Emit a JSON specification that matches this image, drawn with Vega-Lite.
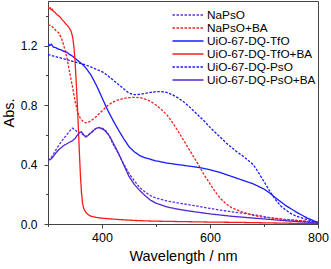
{
  "$schema": "https://vega.github.io/schema/vega-lite/v6.json",
  "autosize": "none",
  "width": 270,
  "height": 223,
  "padding": {"left": 48, "top": 1, "right": 13, "bottom": 45},
  "background": "white",
  "config": {
    "font": "Liberation Sans",
    "view": {"stroke": "#444", "strokeWidth": 1}
  },
  "data": {"values": [
    {"s":"NaPsO","w":300,"a":0.43},{"s":"NaPsO","w":305,"a":0.44},{"s":"NaPsO","w":310,"a":0.47},{"s":"NaPsO","w":315,"a":0.5},{"s":"NaPsO","w":320,"a":0.53},{"s":"NaPsO","w":325,"a":0.555},{"s":"NaPsO","w":330,"a":0.58},{"s":"NaPsO","w":335,"a":0.6},{"s":"NaPsO","w":340,"a":0.625},{"s":"NaPsO","w":345,"a":0.645},{"s":"NaPsO","w":350,"a":0.635},{"s":"NaPsO","w":355,"a":0.615},{"s":"NaPsO","w":360,"a":0.615},{"s":"NaPsO","w":365,"a":0.6},{"s":"NaPsO","w":370,"a":0.588},{"s":"NaPsO","w":375,"a":0.6},{"s":"NaPsO","w":380,"a":0.615},{"s":"NaPsO","w":385,"a":0.632},{"s":"NaPsO","w":390,"a":0.645},{"s":"NaPsO","w":395,"a":0.65},{"s":"NaPsO","w":400,"a":0.645},{"s":"NaPsO","w":405,"a":0.635},{"s":"NaPsO","w":410,"a":0.615},{"s":"NaPsO","w":415,"a":0.58},{"s":"NaPsO","w":420,"a":0.54},{"s":"NaPsO","w":430,"a":0.475},{"s":"NaPsO","w":440,"a":0.405},{"s":"NaPsO","w":450,"a":0.34},{"s":"NaPsO","w":460,"a":0.29},{"s":"NaPsO","w":470,"a":0.245},{"s":"NaPsO","w":480,"a":0.215},{"s":"NaPsO","w":490,"a":0.19},{"s":"NaPsO","w":500,"a":0.175},{"s":"NaPsO","w":520,"a":0.155},{"s":"NaPsO","w":540,"a":0.142},{"s":"NaPsO","w":560,"a":0.13},{"s":"NaPsO","w":580,"a":0.118},{"s":"NaPsO","w":600,"a":0.105},{"s":"NaPsO","w":620,"a":0.093},{"s":"NaPsO","w":640,"a":0.082},{"s":"NaPsO","w":660,"a":0.073},{"s":"NaPsO","w":680,"a":0.063},{"s":"NaPsO","w":700,"a":0.05},{"s":"NaPsO","w":720,"a":0.038},{"s":"NaPsO","w":740,"a":0.03},{"s":"NaPsO","w":760,"a":0.024},{"s":"NaPsO","w":780,"a":0.018},{"s":"NaPsO","w":800,"a":0.01},

    {"s":"NaPsO+BA","w":300,"a":1.34},{"s":"NaPsO+BA","w":305,"a":1.335},{"s":"NaPsO+BA","w":310,"a":1.32},{"s":"NaPsO+BA","w":315,"a":1.3},{"s":"NaPsO+BA","w":320,"a":1.285},{"s":"NaPsO+BA","w":325,"a":1.25},{"s":"NaPsO+BA","w":330,"a":1.19},{"s":"NaPsO+BA","w":335,"a":1.12},{"s":"NaPsO+BA","w":340,"a":1.02},{"s":"NaPsO+BA","w":345,"a":0.93},{"s":"NaPsO+BA","w":350,"a":0.83},{"s":"NaPsO+BA","w":355,"a":0.75},{"s":"NaPsO+BA","w":360,"a":0.71},{"s":"NaPsO+BA","w":365,"a":0.69},{"s":"NaPsO+BA","w":370,"a":0.68},{"s":"NaPsO+BA","w":375,"a":0.685},{"s":"NaPsO+BA","w":380,"a":0.695},{"s":"NaPsO+BA","w":390,"a":0.725},{"s":"NaPsO+BA","w":400,"a":0.76},{"s":"NaPsO+BA","w":410,"a":0.795},{"s":"NaPsO+BA","w":420,"a":0.82},{"s":"NaPsO+BA","w":430,"a":0.835},{"s":"NaPsO+BA","w":440,"a":0.845},{"s":"NaPsO+BA","w":450,"a":0.85},{"s":"NaPsO+BA","w":460,"a":0.852},{"s":"NaPsO+BA","w":470,"a":0.85},{"s":"NaPsO+BA","w":480,"a":0.84},{"s":"NaPsO+BA","w":490,"a":0.825},{"s":"NaPsO+BA","w":500,"a":0.8},{"s":"NaPsO+BA","w":510,"a":0.77},{"s":"NaPsO+BA","w":520,"a":0.735},{"s":"NaPsO+BA","w":530,"a":0.685},{"s":"NaPsO+BA","w":540,"a":0.63},{"s":"NaPsO+BA","w":550,"a":0.57},{"s":"NaPsO+BA","w":560,"a":0.51},{"s":"NaPsO+BA","w":570,"a":0.45},{"s":"NaPsO+BA","w":580,"a":0.39},{"s":"NaPsO+BA","w":590,"a":0.325},{"s":"NaPsO+BA","w":600,"a":0.27},{"s":"NaPsO+BA","w":610,"a":0.215},{"s":"NaPsO+BA","w":620,"a":0.17},{"s":"NaPsO+BA","w":630,"a":0.135},{"s":"NaPsO+BA","w":640,"a":0.11},{"s":"NaPsO+BA","w":660,"a":0.08},{"s":"NaPsO+BA","w":680,"a":0.058},{"s":"NaPsO+BA","w":700,"a":0.045},{"s":"NaPsO+BA","w":720,"a":0.038},{"s":"NaPsO+BA","w":740,"a":0.03},{"s":"NaPsO+BA","w":760,"a":0.024},{"s":"NaPsO+BA","w":780,"a":0.018},{"s":"NaPsO+BA","w":800,"a":0.01},

    {"s":"UiO-67-DQ-TfO","w":300,"a":1.215},{"s":"UiO-67-DQ-TfO","w":303,"a":1.2},{"s":"UiO-67-DQ-TfO","w":306,"a":1.21},{"s":"UiO-67-DQ-TfO","w":310,"a":1.19},{"s":"UiO-67-DQ-TfO","w":315,"a":1.185},{"s":"UiO-67-DQ-TfO","w":320,"a":1.175},{"s":"UiO-67-DQ-TfO","w":325,"a":1.17},{"s":"UiO-67-DQ-TfO","w":330,"a":1.16},{"s":"UiO-67-DQ-TfO","w":335,"a":1.155},{"s":"UiO-67-DQ-TfO","w":340,"a":1.14},{"s":"UiO-67-DQ-TfO","w":345,"a":1.13},{"s":"UiO-67-DQ-TfO","w":350,"a":1.115},{"s":"UiO-67-DQ-TfO","w":355,"a":1.1},{"s":"UiO-67-DQ-TfO","w":360,"a":1.085},{"s":"UiO-67-DQ-TfO","w":365,"a":1.07},{"s":"UiO-67-DQ-TfO","w":370,"a":1.05},{"s":"UiO-67-DQ-TfO","w":375,"a":1.025},{"s":"UiO-67-DQ-TfO","w":380,"a":1.0},{"s":"UiO-67-DQ-TfO","w":390,"a":0.93},{"s":"UiO-67-DQ-TfO","w":400,"a":0.85},{"s":"UiO-67-DQ-TfO","w":410,"a":0.77},{"s":"UiO-67-DQ-TfO","w":420,"a":0.7},{"s":"UiO-67-DQ-TfO","w":430,"a":0.635},{"s":"UiO-67-DQ-TfO","w":440,"a":0.575},{"s":"UiO-67-DQ-TfO","w":450,"a":0.52},{"s":"UiO-67-DQ-TfO","w":460,"a":0.485},{"s":"UiO-67-DQ-TfO","w":470,"a":0.46},{"s":"UiO-67-DQ-TfO","w":480,"a":0.445},{"s":"UiO-67-DQ-TfO","w":500,"a":0.425},{"s":"UiO-67-DQ-TfO","w":520,"a":0.41},{"s":"UiO-67-DQ-TfO","w":540,"a":0.4},{"s":"UiO-67-DQ-TfO","w":560,"a":0.39},{"s":"UiO-67-DQ-TfO","w":580,"a":0.38},{"s":"UiO-67-DQ-TfO","w":600,"a":0.365},{"s":"UiO-67-DQ-TfO","w":620,"a":0.345},{"s":"UiO-67-DQ-TfO","w":640,"a":0.32},{"s":"UiO-67-DQ-TfO","w":660,"a":0.295},{"s":"UiO-67-DQ-TfO","w":680,"a":0.27},{"s":"UiO-67-DQ-TfO","w":700,"a":0.235},{"s":"UiO-67-DQ-TfO","w":710,"a":0.21},{"s":"UiO-67-DQ-TfO","w":720,"a":0.18},{"s":"UiO-67-DQ-TfO","w":740,"a":0.125},{"s":"UiO-67-DQ-TfO","w":760,"a":0.08},{"s":"UiO-67-DQ-TfO","w":780,"a":0.04},{"s":"UiO-67-DQ-TfO","w":800,"a":0.01},

    {"s":"UiO-67-DQ-TfO+BA","w":300,"a":1.46},{"s":"UiO-67-DQ-TfO+BA","w":302,"a":1.45},{"s":"UiO-67-DQ-TfO+BA","w":304,"a":1.455},{"s":"UiO-67-DQ-TfO+BA","w":306,"a":1.44},{"s":"UiO-67-DQ-TfO+BA","w":308,"a":1.445},{"s":"UiO-67-DQ-TfO+BA","w":310,"a":1.43},{"s":"UiO-67-DQ-TfO+BA","w":313,"a":1.425},{"s":"UiO-67-DQ-TfO+BA","w":316,"a":1.41},{"s":"UiO-67-DQ-TfO+BA","w":320,"a":1.4},{"s":"UiO-67-DQ-TfO+BA","w":323,"a":1.39},{"s":"UiO-67-DQ-TfO+BA","w":326,"a":1.375},{"s":"UiO-67-DQ-TfO+BA","w":330,"a":1.36},{"s":"UiO-67-DQ-TfO+BA","w":333,"a":1.345},{"s":"UiO-67-DQ-TfO+BA","w":336,"a":1.335},{"s":"UiO-67-DQ-TfO+BA","w":340,"a":1.315},{"s":"UiO-67-DQ-TfO+BA","w":343,"a":1.295},{"s":"UiO-67-DQ-TfO+BA","w":346,"a":1.25},{"s":"UiO-67-DQ-TfO+BA","w":348,"a":1.19},{"s":"UiO-67-DQ-TfO+BA","w":350,"a":1.1},{"s":"UiO-67-DQ-TfO+BA","w":352,"a":0.97},{"s":"UiO-67-DQ-TfO+BA","w":354,"a":0.83},{"s":"UiO-67-DQ-TfO+BA","w":356,"a":0.67},{"s":"UiO-67-DQ-TfO+BA","w":358,"a":0.49},{"s":"UiO-67-DQ-TfO+BA","w":360,"a":0.33},{"s":"UiO-67-DQ-TfO+BA","w":362,"a":0.21},{"s":"UiO-67-DQ-TfO+BA","w":364,"a":0.14},{"s":"UiO-67-DQ-TfO+BA","w":366,"a":0.105},{"s":"UiO-67-DQ-TfO+BA","w":370,"a":0.078},{"s":"UiO-67-DQ-TfO+BA","w":375,"a":0.062},{"s":"UiO-67-DQ-TfO+BA","w":380,"a":0.052},{"s":"UiO-67-DQ-TfO+BA","w":390,"a":0.044},{"s":"UiO-67-DQ-TfO+BA","w":400,"a":0.039},{"s":"UiO-67-DQ-TfO+BA","w":420,"a":0.033},{"s":"UiO-67-DQ-TfO+BA","w":440,"a":0.028},{"s":"UiO-67-DQ-TfO+BA","w":460,"a":0.024},{"s":"UiO-67-DQ-TfO+BA","w":480,"a":0.021},{"s":"UiO-67-DQ-TfO+BA","w":500,"a":0.019},{"s":"UiO-67-DQ-TfO+BA","w":550,"a":0.016},{"s":"UiO-67-DQ-TfO+BA","w":600,"a":0.013},{"s":"UiO-67-DQ-TfO+BA","w":650,"a":0.011},{"s":"UiO-67-DQ-TfO+BA","w":700,"a":0.008},{"s":"UiO-67-DQ-TfO+BA","w":750,"a":0.005},{"s":"UiO-67-DQ-TfO+BA","w":800,"a":0.002},

    {"s":"UiO-67-DQ-PsO","w":300,"a":1.14},{"s":"UiO-67-DQ-PsO","w":310,"a":1.13},{"s":"UiO-67-DQ-PsO","w":320,"a":1.12},{"s":"UiO-67-DQ-PsO","w":330,"a":1.11},{"s":"UiO-67-DQ-PsO","w":340,"a":1.1},{"s":"UiO-67-DQ-PsO","w":350,"a":1.09},{"s":"UiO-67-DQ-PsO","w":360,"a":1.08},{"s":"UiO-67-DQ-PsO","w":370,"a":1.07},{"s":"UiO-67-DQ-PsO","w":380,"a":1.055},{"s":"UiO-67-DQ-PsO","w":390,"a":1.04},{"s":"UiO-67-DQ-PsO","w":400,"a":1.025},{"s":"UiO-67-DQ-PsO","w":410,"a":1.0},{"s":"UiO-67-DQ-PsO","w":420,"a":0.97},{"s":"UiO-67-DQ-PsO","w":430,"a":0.94},{"s":"UiO-67-DQ-PsO","w":440,"a":0.91},{"s":"UiO-67-DQ-PsO","w":450,"a":0.88},{"s":"UiO-67-DQ-PsO","w":460,"a":0.87},{"s":"UiO-67-DQ-PsO","w":470,"a":0.872},{"s":"UiO-67-DQ-PsO","w":480,"a":0.878},{"s":"UiO-67-DQ-PsO","w":490,"a":0.885},{"s":"UiO-67-DQ-PsO","w":500,"a":0.89},{"s":"UiO-67-DQ-PsO","w":510,"a":0.89},{"s":"UiO-67-DQ-PsO","w":520,"a":0.885},{"s":"UiO-67-DQ-PsO","w":530,"a":0.87},{"s":"UiO-67-DQ-PsO","w":540,"a":0.85},{"s":"UiO-67-DQ-PsO","w":550,"a":0.825},{"s":"UiO-67-DQ-PsO","w":560,"a":0.795},{"s":"UiO-67-DQ-PsO","w":570,"a":0.76},{"s":"UiO-67-DQ-PsO","w":580,"a":0.725},{"s":"UiO-67-DQ-PsO","w":590,"a":0.69},{"s":"UiO-67-DQ-PsO","w":600,"a":0.65},{"s":"UiO-67-DQ-PsO","w":610,"a":0.615},{"s":"UiO-67-DQ-PsO","w":620,"a":0.58},{"s":"UiO-67-DQ-PsO","w":630,"a":0.545},{"s":"UiO-67-DQ-PsO","w":640,"a":0.515},{"s":"UiO-67-DQ-PsO","w":650,"a":0.485},{"s":"UiO-67-DQ-PsO","w":660,"a":0.46},{"s":"UiO-67-DQ-PsO","w":670,"a":0.43},{"s":"UiO-67-DQ-PsO","w":680,"a":0.4},{"s":"UiO-67-DQ-PsO","w":690,"a":0.345},{"s":"UiO-67-DQ-PsO","w":700,"a":0.285},{"s":"UiO-67-DQ-PsO","w":710,"a":0.225},{"s":"UiO-67-DQ-PsO","w":720,"a":0.17},{"s":"UiO-67-DQ-PsO","w":730,"a":0.125},{"s":"UiO-67-DQ-PsO","w":740,"a":0.095},{"s":"UiO-67-DQ-PsO","w":750,"a":0.07},{"s":"UiO-67-DQ-PsO","w":760,"a":0.052},{"s":"UiO-67-DQ-PsO","w":780,"a":0.03},{"s":"UiO-67-DQ-PsO","w":800,"a":0.008},

    {"s":"UiO-67-DQ-PsO+BA","w":300,"a":0.43},{"s":"UiO-67-DQ-PsO+BA","w":305,"a":0.435},{"s":"UiO-67-DQ-PsO+BA","w":310,"a":0.455},{"s":"UiO-67-DQ-PsO+BA","w":315,"a":0.48},{"s":"UiO-67-DQ-PsO+BA","w":320,"a":0.5},{"s":"UiO-67-DQ-PsO+BA","w":325,"a":0.515},{"s":"UiO-67-DQ-PsO+BA","w":330,"a":0.53},{"s":"UiO-67-DQ-PsO+BA","w":335,"a":0.54},{"s":"UiO-67-DQ-PsO+BA","w":340,"a":0.55},{"s":"UiO-67-DQ-PsO+BA","w":345,"a":0.56},{"s":"UiO-67-DQ-PsO+BA","w":350,"a":0.575},{"s":"UiO-67-DQ-PsO+BA","w":355,"a":0.6},{"s":"UiO-67-DQ-PsO+BA","w":358,"a":0.615},{"s":"UiO-67-DQ-PsO+BA","w":362,"a":0.62},{"s":"UiO-67-DQ-PsO+BA","w":366,"a":0.6},{"s":"UiO-67-DQ-PsO+BA","w":370,"a":0.585},{"s":"UiO-67-DQ-PsO+BA","w":374,"a":0.595},{"s":"UiO-67-DQ-PsO+BA","w":378,"a":0.61},{"s":"UiO-67-DQ-PsO+BA","w":382,"a":0.62},{"s":"UiO-67-DQ-PsO+BA","w":386,"a":0.635},{"s":"UiO-67-DQ-PsO+BA","w":390,"a":0.645},{"s":"UiO-67-DQ-PsO+BA","w":395,"a":0.648},{"s":"UiO-67-DQ-PsO+BA","w":400,"a":0.64},{"s":"UiO-67-DQ-PsO+BA","w":405,"a":0.63},{"s":"UiO-67-DQ-PsO+BA","w":410,"a":0.61},{"s":"UiO-67-DQ-PsO+BA","w":415,"a":0.585},{"s":"UiO-67-DQ-PsO+BA","w":420,"a":0.55},{"s":"UiO-67-DQ-PsO+BA","w":430,"a":0.48},{"s":"UiO-67-DQ-PsO+BA","w":440,"a":0.4},{"s":"UiO-67-DQ-PsO+BA","w":450,"a":0.32},{"s":"UiO-67-DQ-PsO+BA","w":460,"a":0.265},{"s":"UiO-67-DQ-PsO+BA","w":470,"a":0.225},{"s":"UiO-67-DQ-PsO+BA","w":480,"a":0.19},{"s":"UiO-67-DQ-PsO+BA","w":490,"a":0.16},{"s":"UiO-67-DQ-PsO+BA","w":500,"a":0.14},{"s":"UiO-67-DQ-PsO+BA","w":520,"a":0.115},{"s":"UiO-67-DQ-PsO+BA","w":540,"a":0.1},{"s":"UiO-67-DQ-PsO+BA","w":560,"a":0.088},{"s":"UiO-67-DQ-PsO+BA","w":580,"a":0.078},{"s":"UiO-67-DQ-PsO+BA","w":600,"a":0.068},{"s":"UiO-67-DQ-PsO+BA","w":620,"a":0.06},{"s":"UiO-67-DQ-PsO+BA","w":640,"a":0.052},{"s":"UiO-67-DQ-PsO+BA","w":660,"a":0.046},{"s":"UiO-67-DQ-PsO+BA","w":680,"a":0.04},{"s":"UiO-67-DQ-PsO+BA","w":700,"a":0.034},{"s":"UiO-67-DQ-PsO+BA","w":720,"a":0.028},{"s":"UiO-67-DQ-PsO+BA","w":740,"a":0.022},{"s":"UiO-67-DQ-PsO+BA","w":760,"a":0.017},{"s":"UiO-67-DQ-PsO+BA","w":780,"a":0.012},{"s":"UiO-67-DQ-PsO+BA","w":800,"a":0.006}
  ]},
  "mark": {"type": "line", "strokeWidth": 1.3, "clip": true},
  "encoding": {
    "x": {
      "field": "w", "type": "quantitative",
      "scale": {"domain": [300, 800], "nice": false},
      "axis": {
        "title": "Wavelength / nm",
        "titleFontSize": 14.5, "titleFontWeight": "normal", "titleColor": "black", "titlePadding": 6,
        "values": [300, 400, 500, 600, 700, 800],
        "labelExpr": "datum.value % 200 == 0 ? datum.label : ''",
        "labelFontSize": 12.5, "labelColor": "black", "labelPadding": 3,
        "tickSize": {"condition": {"test": "datum.value % 200 == 0", "value": 4}, "value": 2.5},
        "tickColor": "#444", "domainColor": "#444", "grid": false, "labelFlush": false
      }
    },
    "y": {
      "field": "a", "type": "quantitative",
      "scale": {"domain": [0, 1.5], "nice": false},
      "axis": {
        "title": "Abs.",
        "titleFontSize": 14.5, "titleFontWeight": "normal", "titleColor": "black", "titlePadding": 4,
        "values": [0, 0.2, 0.4, 0.6, 0.8, 1.0, 1.2, 1.4],
        "labelExpr": "round(datum.value * 10) % 4 == 0 ? format(datum.value, '.1f') : ''",
        "labelFontSize": 12, "labelColor": "black", "labelPadding": 7,
        "tickSize": {"condition": {"test": "round(datum.value * 10) % 4 == 0", "value": 4}, "value": 2.5},
        "tickColor": "#444", "domainColor": "#444", "grid": false, "labelFlush": false
      }
    },
    "color": {
      "field": "s", "type": "nominal",
      "scale": {
        "domain": ["NaPsO", "NaPsO+BA", "UiO-67-DQ-TfO", "UiO-67-DQ-TfO+BA", "UiO-67-DQ-PsO", "UiO-67-DQ-PsO+BA"],
        "range": ["#5a30e0", "#f02020", "#1a1aff", "#ff1a1a", "#1a1aff", "#5226d0"]
      },
      "legend": {
        "title": null, "orient": "none", "legendX": 134, "legendY": 8,
        "symbolType": "M-3,0H3", "symbolSize": 107, "symbolStrokeWidth": 1.3,
        "labelFontSize": 11.8, "labelColor": "black", "labelOffset": 13,
        "rowPadding": -2.5, "padding": 0
      }
    },
    "strokeDash": {
      "field": "s", "type": "nominal",
      "scale": {
        "domain": ["NaPsO", "NaPsO+BA", "UiO-67-DQ-TfO", "UiO-67-DQ-TfO+BA", "UiO-67-DQ-PsO", "UiO-67-DQ-PsO+BA"],
        "range": [[2.5, 1.5], [2.5, 1.5], [1, 0], [1, 0], [2.5, 1.5], [1, 0]]
      },
      "legend": null
    }
  }
}
